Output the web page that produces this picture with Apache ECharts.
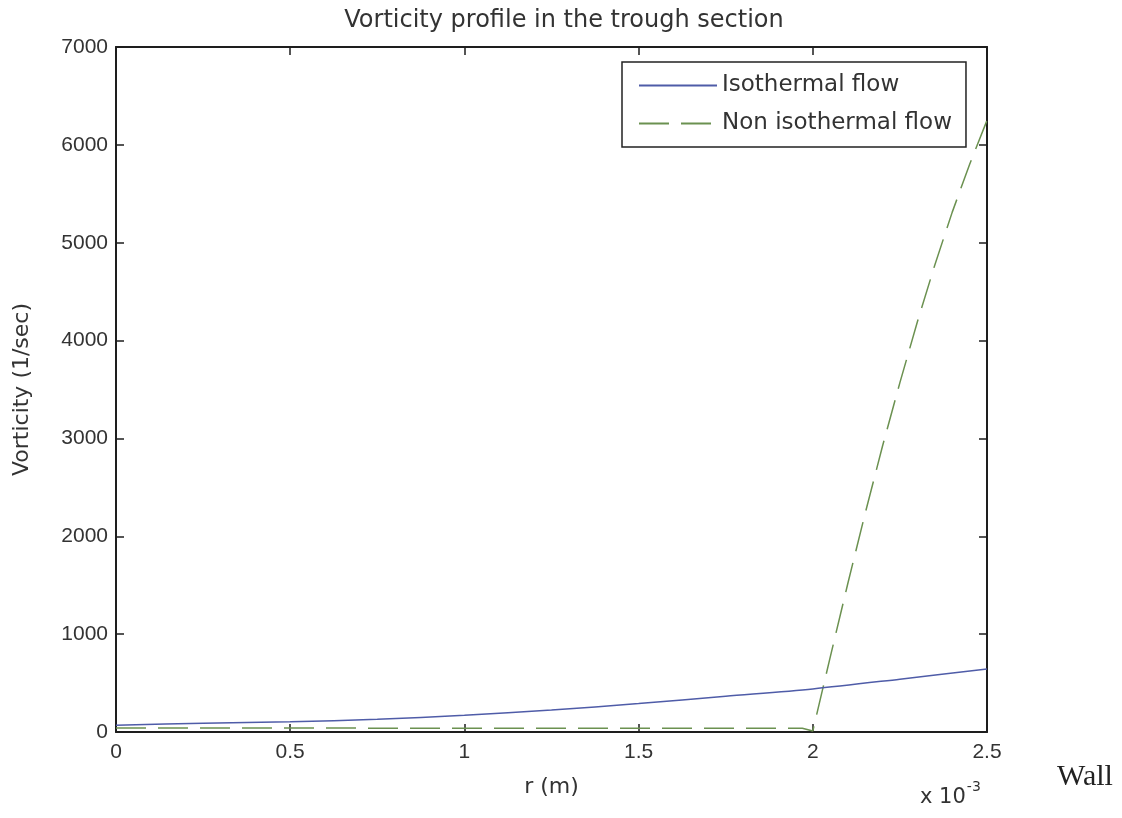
<!DOCTYPE html>
<html>
<head>
<meta charset="utf-8">
<title>Vorticity profile in the trough section</title>
<script src="https://cdn.jsdelivr.net/npm/echarts@6/dist/echarts.min.js"></script>
<style>
  html, body { margin: 0; padding: 0; background: #ffffff; }
  #chart { width: 1122px; height: 818px; }
</style>
</head>
<body>
<div id="chart"></div>
<script>
// Radial position r, in units of 10^-3 m
const isoR = [0, 0.25, 0.5, 0.75, 1.0, 1.25, 1.5, 1.75, 2.0, 2.25, 2.5];
// Isothermal flow vorticity (1/sec)
const isoVorticity = [70, 89, 105, 130, 170, 225, 290, 365, 440, 540, 645];

const nonIsoR = [0, 0.5, 1.0, 1.5, 1.97, 2.0, 2.05, 2.1, 2.15, 2.2, 2.25, 2.3, 2.35, 2.4, 2.45, 2.5];
// Non isothermal flow vorticity (1/sec)
const nonIsoVorticity = [42, 40, 39, 39, 39, 10, 765, 1510, 2230, 2920, 3570, 4190, 4770, 5310, 5800, 6250];

const xTicks = ['0', '0.5', '1', '1.5', '2', '2.5'];
const yTicks = [0, 1000, 2000, 3000, 4000, 5000, 6000, 7000];

const seriesNames = ['Isothermal flow', 'Non isothermal flow'];

const FONT = '"DejaVu Sans", "Liberation Sans", sans-serif';
const TICK_FONT = '"Liberation Sans", Arial, sans-serif';
const AXIS_COLOR = '#1e1e1e';
const TEXT_COLOR = '#333333';
const BLUE = '#4f5ca8';
const GREEN = '#6b9150';

const pairs = (xs, ys) => xs.map((x, i) => [x, ys[i]]);

const xTickLabel = v => {
  const idx = Math.round(v / 0.5);
  return Math.abs(v - idx * 0.5) < 1e-9 ? (xTicks[idx] ?? '') : '';
};

const chart = echarts.init(document.getElementById('chart'), null, { renderer: 'canvas' });

// Shared look of the four sides of the plot box (ticks pointing inward)
const boxAxisX = {
  type: 'value', min: 0, max: 2.5, interval: 0.5,
  axisLine: { show: true, onZero: false, lineStyle: { color: AXIS_COLOR, width: 2 } },
  axisTick: { show: true, inside: true, length: 8, lineStyle: { color: AXIS_COLOR, width: 1.5 } },
  splitLine: { show: false }
};
const boxAxisY = {
  type: 'value', min: 0, max: 7000, interval: 1000,
  axisLine: { show: true, onZero: false, lineStyle: { color: AXIS_COLOR, width: 2 } },
  axisTick: { show: true, inside: true, length: 8, lineStyle: { color: AXIS_COLOR, width: 1.5 } },
  splitLine: { show: false }
};

chart.setOption({
  backgroundColor: '#ffffff',
  animation: false,
  title: {
    text: 'Vorticity profile in the trough section',
    left: 559, top: 4, textAlign: 'center',
    textStyle: { fontFamily: FONT, fontSize: 24, fontWeight: 'normal', color: TEXT_COLOR }
  },
  grid: { left: 116, right: 135, top: 47, bottom: 86 },
  legend: {
    data: seriesNames,
    orient: 'vertical',
    left: 622, top: 62,
    padding: [12, 14, 12, 16],
    itemGap: 15,
    itemWidth: 78,
    itemHeight: 14,
    borderColor: '#222222',
    borderWidth: 1.5,
    borderRadius: 0,
    backgroundColor: '#ffffff',
    itemStyle: { opacity: 0 },
    textStyle: { fontFamily: FONT, fontSize: 23, color: TEXT_COLOR }
  },
  xAxis: [
    Object.assign({}, boxAxisX, {
      position: 'bottom',
      name: 'r (m)', nameLocation: 'middle', nameGap: 44,
      nameTextStyle: { fontFamily: FONT, fontSize: 22, color: TEXT_COLOR },
      axisLabel: {
        margin: 10, fontFamily: TICK_FONT, fontSize: 21, color: TEXT_COLOR,
        formatter: xTickLabel
      }
    }),
    Object.assign({}, boxAxisX, { position: 'top', axisLabel: { show: false } })
  ],
  yAxis: [
    Object.assign({}, boxAxisY, {
      position: 'left',
      name: 'Vorticity (1/sec)', nameLocation: 'middle', nameGap: 83,
      nameTextStyle: { fontFamily: FONT, fontSize: 22, color: TEXT_COLOR },
      axisLabel: {
        margin: 8, fontFamily: TICK_FONT, fontSize: 21, color: TEXT_COLOR,
        formatter: v => yTicks.includes(v) ? String(v) : ''
      }
    }),
    Object.assign({}, boxAxisY, { position: 'right', axisLabel: { show: false } })
  ],
  series: [
    {
      name: seriesNames[0],
      type: 'line',
      data: pairs(isoR, isoVorticity),
      showSymbol: false, symbol: 'none',
      smooth: 0.3,
      lineStyle: { color: BLUE, width: 1.5, type: 'solid' },
      itemStyle: { color: BLUE },
      z: 3
    },
    {
      name: seriesNames[1],
      type: 'line',
      data: pairs(nonIsoR, nonIsoVorticity),
      showSymbol: false, symbol: 'none',
      lineStyle: { color: GREEN, width: 1.5, type: [30, 12] },
      itemStyle: { color: GREEN },
      z: 2
    }
  ],
  graphic: [
    {
      type: 'text',
      left: 920, top: 780,
      style: {
        text: '{b|x 10}{s|-3}',
        rich: {
          b: { fontFamily: FONT, fontSize: 21, fill: TEXT_COLOR, verticalAlign: 'bottom' },
          s: { fontFamily: FONT, fontSize: 14, fill: TEXT_COLOR, verticalAlign: 'top', padding: [0, 0, 14, 1] }
        }
      }
    },
    {
      type: 'text',
      left: 1057, top: 762,
      style: {
        text: 'Wall',
        fontFamily: '"Liberation Serif", "Times New Roman", serif',
        fontSize: 30, fill: '#222222'
      }
    }
  ]
});
</script>
</body>
</html>
